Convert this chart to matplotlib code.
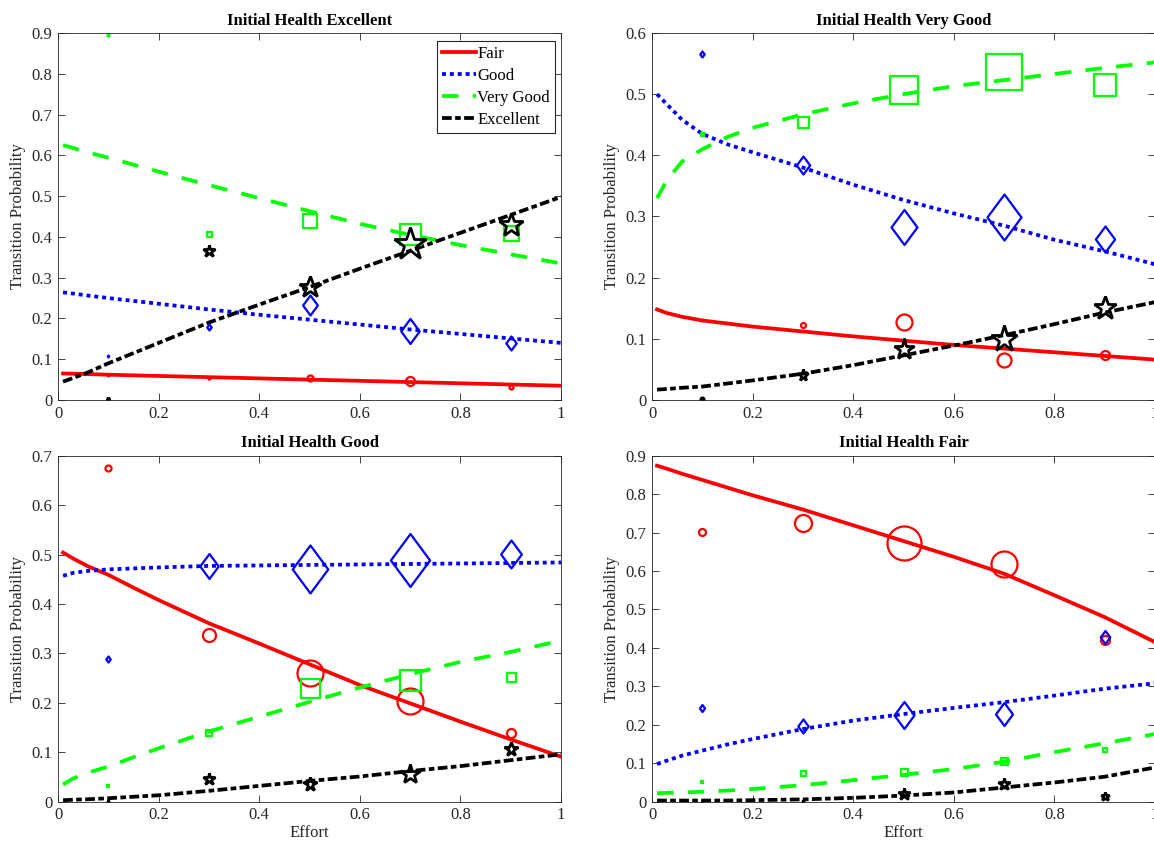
import matplotlib
matplotlib.use('Agg')
import matplotlib.pyplot as plt
from matplotlib.path import Path
from matplotlib.ticker import FuncFormatter

plt.rcParams['font.family'] = ['Liberation Serif', 'DejaVu Serif']

effort = [0.1, 0.3, 0.5, 0.7, 0.9]
fit_x = [0.01, 0.03, 0.06, 0.1, 0.15, 0.2, 0.3, 0.4, 0.5, 0.6, 0.7, 0.8, 0.9, 1.0]
series = ['Fair', 'Good', 'Very Good', 'Excellent']
titles = ['Initial Health Excellent', 'Initial Health Very Good',
          'Initial Health Good', 'Initial Health Fair']
ymax = [0.9, 0.6, 0.7, 0.9]

# observed transition shares, rows = Fair, Good, Very Good, Excellent
obs_excellent = [[0.062, 0.055, 0.053, 0.047, 0.032],
                 [0.108, 0.178, 0.233, 0.169, 0.139],
                 [0.895, 0.408, 0.438, 0.408, 0.410],
                 [0.002, 0.365, 0.276, 0.383, 0.428]]
obs_verygood = [[0.130, 0.122, 0.127, 0.065, 0.074],
                [0.565, 0.385, 0.283, 0.299, 0.263],
                [0.435, 0.454, 0.507, 0.537, 0.515],
                [0.002, 0.041, 0.084, 0.100, 0.150]]
obs_good = [[0.676, 0.337, 0.260, 0.204, 0.140],
            [0.289, 0.477, 0.471, 0.489, 0.502],
            [0.032, 0.138, 0.231, 0.246, 0.253],
            [0.001, 0.046, 0.035, 0.057, 0.107]]
obs_fair = [[0.702, 0.725, 0.673, 0.618, 0.420],
            [0.243, 0.198, 0.226, 0.227, 0.428],
            [0.052, 0.075, 0.078, 0.107, 0.135],
            [0.000, 0.002, 0.020, 0.046, 0.016]]

# marker heights in pixels (cell counts)
size_excellent = [[3, 4, 8, 11, 6], [4, 8, 22, 27, 16], [3, 7, 16, 23, 17], [5, 12, 20, 29, 22]]
size_verygood = [[3, 7, 18, 16, 11], [8, 20, 37, 48, 28], [5, 13, 29, 38, 24], [6, 11, 19, 24, 21]]
size_good = [[8, 15, 28, 28, 11], [8, 27, 50, 55, 30], [4, 8, 21, 23, 11], [4, 12, 13, 18, 13]]
size_fair = [[9, 19, 36, 28, 11], [9, 16, 29, 25, 15], [4, 7, 9, 9, 6], [4, 4, 12, 12, 9]]

# fitted curves at fit_x
fit_excellent = [[0.065, 0.0645, 0.0635, 0.062, 0.0605, 0.059, 0.056, 0.053, 0.050, 0.047, 0.044, 0.041, 0.038, 0.035],
                 [0.264, 0.261, 0.256, 0.250, 0.243, 0.236, 0.222, 0.209, 0.197, 0.185, 0.173, 0.162, 0.151, 0.140],
                 [0.625, 0.618, 0.607, 0.594, 0.577, 0.560, 0.527, 0.495, 0.463, 0.432, 0.405, 0.380, 0.357, 0.335],
                 [0.045, 0.054, 0.068, 0.090, 0.115, 0.140, 0.190, 0.234, 0.277, 0.322, 0.366, 0.410, 0.454, 0.498]]
fit_verygood = [[0.148, 0.142, 0.136, 0.130, 0.125, 0.120, 0.112, 0.104, 0.097, 0.090, 0.084, 0.078, 0.072, 0.066],
                [0.500, 0.483, 0.458, 0.435, 0.418, 0.405, 0.380, 0.352, 0.327, 0.305, 0.285, 0.262, 0.243, 0.222],
                [0.330, 0.360, 0.390, 0.410, 0.430, 0.445, 0.467, 0.485, 0.500, 0.513, 0.523, 0.533, 0.543, 0.552],
                [0.017, 0.018, 0.020, 0.022, 0.027, 0.032, 0.043, 0.057, 0.073, 0.089, 0.106, 0.124, 0.143, 0.160]]
fit_good = [[0.504, 0.492, 0.476, 0.459, 0.433, 0.408, 0.361, 0.320, 0.278, 0.236, 0.199, 0.162, 0.126, 0.091],
            [0.457, 0.463, 0.467, 0.470, 0.472, 0.474, 0.477, 0.478, 0.479, 0.480, 0.481, 0.482, 0.483, 0.484],
            [0.035, 0.047, 0.059, 0.071, 0.090, 0.108, 0.142, 0.172, 0.202, 0.231, 0.258, 0.283, 0.303, 0.326],
            [0.003, 0.004, 0.005, 0.007, 0.010, 0.013, 0.022, 0.032, 0.042, 0.051, 0.062, 0.072, 0.084, 0.096]]
fit_fair = [[0.874, 0.866, 0.853, 0.837, 0.817, 0.797, 0.760, 0.719, 0.678, 0.637, 0.593, 0.537, 0.480, 0.415],
            [0.098, 0.107, 0.120, 0.133, 0.149, 0.163, 0.189, 0.211, 0.228, 0.244, 0.259, 0.276, 0.294, 0.308],
            [0.022, 0.023, 0.024, 0.026, 0.029, 0.033, 0.043, 0.056, 0.070, 0.085, 0.104, 0.129, 0.152, 0.176],
            [0.003, 0.003, 0.003, 0.003, 0.003, 0.004, 0.006, 0.010, 0.016, 0.024, 0.037, 0.050, 0.065, 0.089]]

panels = [(obs_excellent, size_excellent, fit_excellent),
          (obs_verygood, size_verygood, fit_verygood),
          (obs_good, size_good, fit_good),
          (obs_fair, size_fair, fit_fair)]

colors = ['#ff0000', '#0000ff', '#00ff00', '#000000']
diamond = Path([(0, 1), (0.74, 0), (0, -1), (-0.74, 0), (0, 1)],
               [Path.MOVETO, Path.LINETO, Path.LINETO, Path.LINETO, Path.CLOSEPOLY])
markers = ['o', diamond, 's', '*']
px_per_pt = 100 / 72
size_scale = [1.0, 1.0, 1.0, 0.8]
edge_w = [1.6, 1.6, 1.6, 2.0]
line_styles = [dict(linestyle='-'),
               dict(linestyle=(0, (1.05, 1.05)), dash_capstyle='butt'),
               dict(linestyle=(0, (4.4, 3.8))),
               dict(linestyle=(0, (2.6, 0.9, 1.5, 0.9)))]

fig = plt.figure(figsize=(11.54, 8.48), dpi=100)
rects = [[0.0503, 0.5283, 0.4359, 0.4328], [0.565, 0.5283, 0.4359, 0.4328],
         [0.0503, 0.0546, 0.4359, 0.408], [0.565, 0.0546, 0.4359, 0.408]]
gray = '#262626'

for i, (obs, sizes, fit) in enumerate(panels):
    ax = fig.add_axes(rects[i])
    for k in range(4):
        ax.plot(fit_x, fit[k], color=colors[k], lw=2.7, label=series[k], **line_styles[k])
    for k in range(4):
        for j in range(5):
            ms = max(sizes[k][j] - 2, 1.5) / px_per_pt / size_scale[k]
            ax.plot(effort[j], obs[k][j], marker=markers[k], ms=ms, mfc='none',
                    mec=colors[k], mew=edge_w[k], linestyle='none')
    ax.set_xlim(0, 1)
    ax.set_ylim(0, ymax[i])
    ax.set_xticks([0, 0.2, 0.4, 0.6, 0.8, 1.0])
    ax.set_yticks([t / 10 for t in range(int(round(ymax[i] * 10)) + 1)])
    ax.xaxis.set_major_formatter(FuncFormatter(lambda v, p: '%g' % round(v, 2)))
    ax.yaxis.set_major_formatter(FuncFormatter(lambda v, p: '%g' % round(v, 2)))
    ax.tick_params(direction='in', top=True, right=True, length=5, width=0.6,
                   color=gray, labelcolor=gray, labelsize=12, pad=4)
    for sp in ax.spines.values():
        sp.set_color(gray)
        sp.set_linewidth(0.6)
    ax.set_title(titles[i], fontsize=12, fontweight='bold', pad=6)
    ax.set_ylabel('Transition Probability', fontsize=12, color=gray)
    ax.yaxis.set_label_coords(-0.064, 0.5)
    if i >= 2:
        ax.set_xlabel('Effort', fontsize=12, color=gray, labelpad=1)
    if i == 0:
        leg = ax.legend(loc='upper right', bbox_to_anchor=(0.988, 0.978), borderaxespad=0,
                        fontsize=12, handlelength=2.0, handletextpad=0.1, labelspacing=0.36,
                        borderpad=0.3, fancybox=False, framealpha=1, edgecolor=gray)
        leg.get_frame().set_linewidth(0.8)

fig.savefig('out.png', dpi=100)
